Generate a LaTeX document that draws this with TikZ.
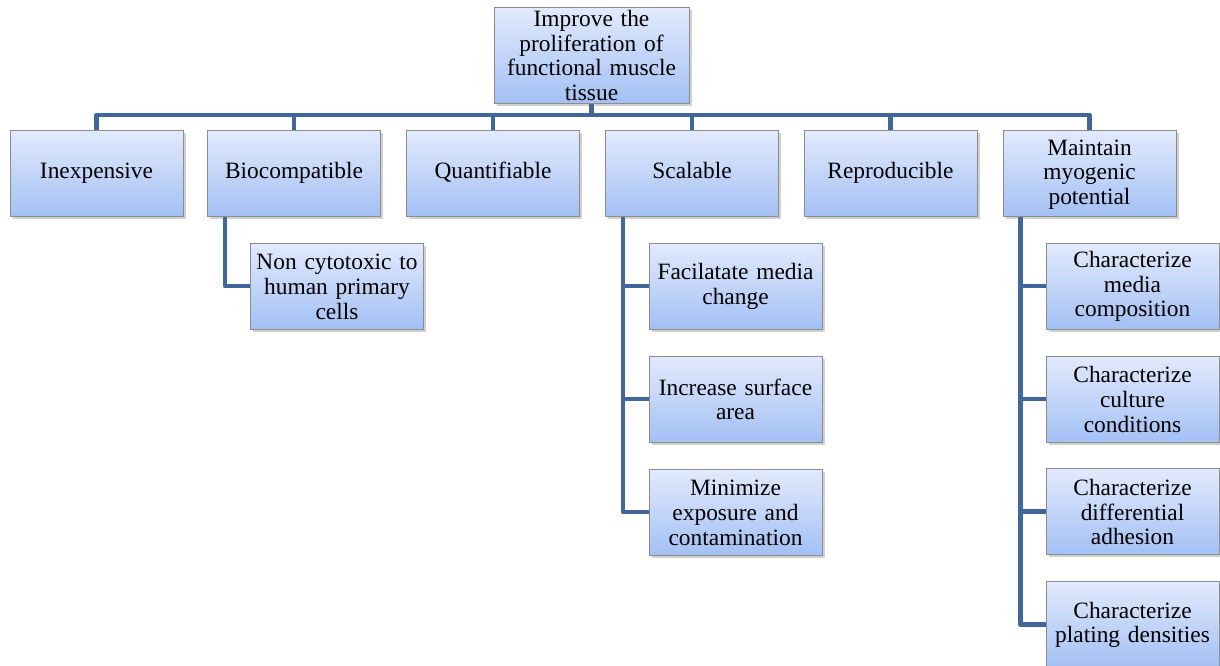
\documentclass[tikz,border=0pt]{standalone}
\usepackage{fontspec}
\setmainfont{Liberation Serif}
\usetikzlibrary{shadows}
\pgfdeclarelayer{bg}
\pgfsetlayers{bg,main}
\definecolor{linkc}{HTML}{41679A}
\definecolor{boxtop}{HTML}{E2EAFC}
\definecolor{boxbot}{HTML}{A3C0F4}
\definecolor{boxdraw}{HTML}{8C8C8C}
\tikzset{
  box/.style={draw=boxdraw, line width=0.8pt, top color=boxtop, bottom color=boxbot,
    minimum width=173pt, minimum height=86pt, text width=170pt, align=center, inner sep=0pt,
    font=\fontsize{23.4}{24.6}\selectfont, execute at begin node=\strut,
    drop shadow={shadow xshift=2.5pt, shadow yshift=-2.5pt, opacity=0.3, fill=black!60}},
  link/.style={draw=linkc, line width=4.5pt, line join=round}
}
\begin{document}
\begin{tikzpicture}[x=1pt,y=-1pt]
\useasboundingbox (0,0) rectangle (1220,665);
\clip (0,0) rectangle (1220,665);
\node[box, minimum width=195pt, minimum height=96pt, text width=192pt] (top) at (591.5,55) {Improve the\\proliferation of\\functional muscle\\tissue};
\node[box] (n1) at (96.5,173.5) {Inexpensive};
\node[box] (n2) at (294,173.5) {Biocompatible};
\node[box] (n3) at (493,173.5) {Quantifiable};
\node[box] (n4) at (692,173.5) {Scalable};
\node[box] (n5) at (890.5,173.5) {Reproducible};
\node[box] (n6) at (1089.5,173.5) {Maintain\\myogenic\\potential};
\node[box] (b1) at (337,286) {Non cytotoxic to\\human primary\\cells};
\node[box] (s1) at (735.5,286) {Facilatate media\\change};
\node[box] (s2) at (735.5,399) {Increase surface\\area};
\node[box] (s3) at (735.5,512) {Minimize\\exposure and\\contamination};
\node[box] (m1) at (1132.5,286) {Characterize\\media\\composition};
\node[box] (m2) at (1132.5,399) {Characterize\\culture\\conditions};
\node[box] (m3) at (1132.5,511.5) {Characterize\\differential\\adhesion};
\node[box] (m4) at (1132.5,624.5) {Characterize\\plating densities};
\coordinate (bus) at (591.5,115);
\begin{pgfonlayer}{bg}
\foreach \n in {n1,n2,n3,n4,n5,n6}{
  \draw[link] (top.south) -- (bus) -| (\n.north);
}
\draw[link] ([xshift=18pt]n2.south west) |- (b1.west);
\foreach \n in {s1,s2,s3}{
  \draw[link] ([xshift=18pt]n4.south west) |- (\n.west);
}
\foreach \n in {m1,m2,m3,m4}{
  \draw[link] ([xshift=18pt]n6.south west) |- (\n.west);
}
\end{pgfonlayer}
\end{tikzpicture}
\end{document}
